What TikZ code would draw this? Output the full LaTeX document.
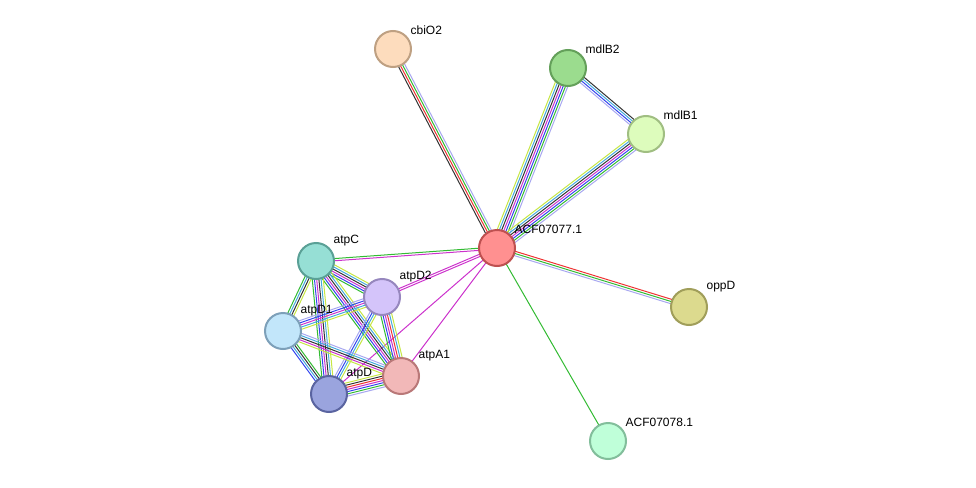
\documentclass[tikz,border=0pt]{standalone}
\usepackage{fontspec}
\setmainfont{Liberation Sans}
\usetikzlibrary{calc,backgrounds}
\definecolor{stNbr}{HTML}{33BB33}
\definecolor{stTxt}{HTML}{C6E644}
\definecolor{stCox}{HTML}{333333}
\definecolor{stExp}{HTML}{CC33CC}
\definecolor{stDb}{HTML}{44AADD}
\definecolor{stCoo}{HTML}{3344EE}
\definecolor{stFus}{HTML}{EE3333}
\definecolor{stHom}{HTML}{A8A8F0}
% parallel strands between two named nodes
\newcommand\strands[4]{%
  \foreach \c [count=\i] in {#4} {
    \pgfmathsetmacro\o{(\i-(#3+1)/2)*2.2}
    \draw[\c, line width=1pt] ($(#1)!\o pt!90:(#2)$) -- ($(#2)!\o pt!-90:(#1)$);
  }}
\begin{document}
\begin{tikzpicture}[
    x=1pt, y=-1pt,
    prot/.style={circle, draw, line width=2pt, minimum size=36pt, inner sep=0pt},
    lbl/.style={anchor=south west, font=\fontsize{12}{13}\selectfont, inner sep=0pt, xshift=4pt, yshift=1pt}
]
    \useasboundingbox (0,0) rectangle (976,487);
    \node[prot, fill={rgb,255:red,253;green,220;blue,189}, draw={rgb,255:red,190;green,160;blue,130}, label={[lbl]north east:cbiO2}] (cbiO2) at (393,49) {};
    \node[prot, fill={rgb,255:red,155;green,220;blue,142}, draw={rgb,255:red,100;green,160;blue,90}, label={[lbl]north east:mdlB2}] (mdlB2) at (568,68) {};
    \node[prot, fill={rgb,255:red,221;green,252;blue,188}, draw={rgb,255:red,160;green,190;blue,130}, label={[lbl]north east:mdlB1}] (mdlB1) at (646,134) {};
    \node[prot, fill={rgb,255:red,255;green,144;blue,144}, draw={rgb,255:red,190;green,80;blue,80}, label={[lbl]north east:ACF07077.1}] (ACF77) at (497,248) {};
    \node[prot, fill={rgb,255:red,220;green,218;blue,142}, draw={rgb,255:red,160;green,158;blue,90}, label={[lbl]north east:oppD}] (oppD) at (689,307) {};
    \node[prot, fill={rgb,255:red,191;green,255;blue,217}, draw={rgb,255:red,130;green,190;blue,155}, label={[lbl]north east:ACF07078.1}] (ACF78) at (608,441) {};
    \node[prot, fill={rgb,255:red,150;green,223;blue,213}, draw={rgb,255:red,90;green,160;blue,150}, label={[lbl]north east:atpC}] (atpC) at (316,261) {};
    \node[prot, fill={rgb,255:red,212;green,196;blue,250}, draw={rgb,255:red,150;green,135;blue,190}, label={[lbl]north east:atpD2}] (atpD2) at (382,297) {};
    \node[prot, fill={rgb,255:red,194;green,230;blue,250}, draw={rgb,255:red,125;green,160;blue,185}, label={[lbl]north east:atpD1}] (atpD1) at (283,331) {};
    \node[prot, fill={rgb,255:red,242;green,184;blue,184}, draw={rgb,255:red,185;green,120;blue,120}, label={[lbl]north east:atpA1}] (atpA1) at (401,376) {};
    \node[prot, fill={rgb,255:red,154;green,164;blue,222}, draw={rgb,255:red,90;green,100;blue,160}, label={[lbl]north east:atpD}] (atpD) at (329,394) {};

    \begin{scope}[on background layer]
    \strands{ACF77}{cbiO2}{4}{stHom,stNbr,stFus,stCox}
    \strands{ACF77}{mdlB2}{7}{stHom,stNbr,stCoo,stExp,stCox,stDb,stTxt}
    \strands{ACF77}{mdlB1}{7}{stHom,stNbr,stCoo,stExp,stCox,stDb,stTxt}
    \strands{mdlB2}{mdlB1}{4}{stHom,stCoo,stDb,stCox}
    \strands{ACF77}{oppD}{3}{stHom,stNbr,stFus}
    \strands{ACF77}{ACF78}{1}{stNbr}
    \strands{ACF77}{atpC}{2}{stNbr,stExp}
    \strands{ACF77}{atpD2}{2}{stExp,stExp}
    \strands{ACF77}{atpA1}{1}{stExp}
    \strands{ACF77}{atpD}{1}{stExp}
    \strands{atpC}{atpD2}{6}{stNbr,stCoo,stExp,stCox,stDb,stTxt}
    \strands{atpC}{atpD1}{4}{stNbr,stDb,stCox,stTxt}
    \strands{atpC}{atpA1}{6}{stNbr,stCoo,stExp,stCox,stDb,stTxt}
    \strands{atpC}{atpD}{6}{stNbr,stCoo,stExp,stCox,stDb,stTxt}
    \strands{atpD2}{atpD1}{5}{stHom,stCoo,stExp,stDb,stTxt}
    \strands{atpD2}{atpA1}{6}{stNbr,stCoo,stExp,stFus,stDb,stTxt}
    \strands{atpD2}{atpD}{4}{stHom,stCoo,stDb,stTxt}
    \strands{atpD1}{atpA1}{5}{stTxt,stExp,stCox,stDb,stHom}
    \strands{atpD1}{atpD}{4}{stCoo,stDb,stCox,stNbr}
    \strands{atpD}{atpA1}{7}{stHom,stNbr,stCoo,stExp,stFus,stCox,stTxt}
    \end{scope}
\end{tikzpicture}
\end{document}
